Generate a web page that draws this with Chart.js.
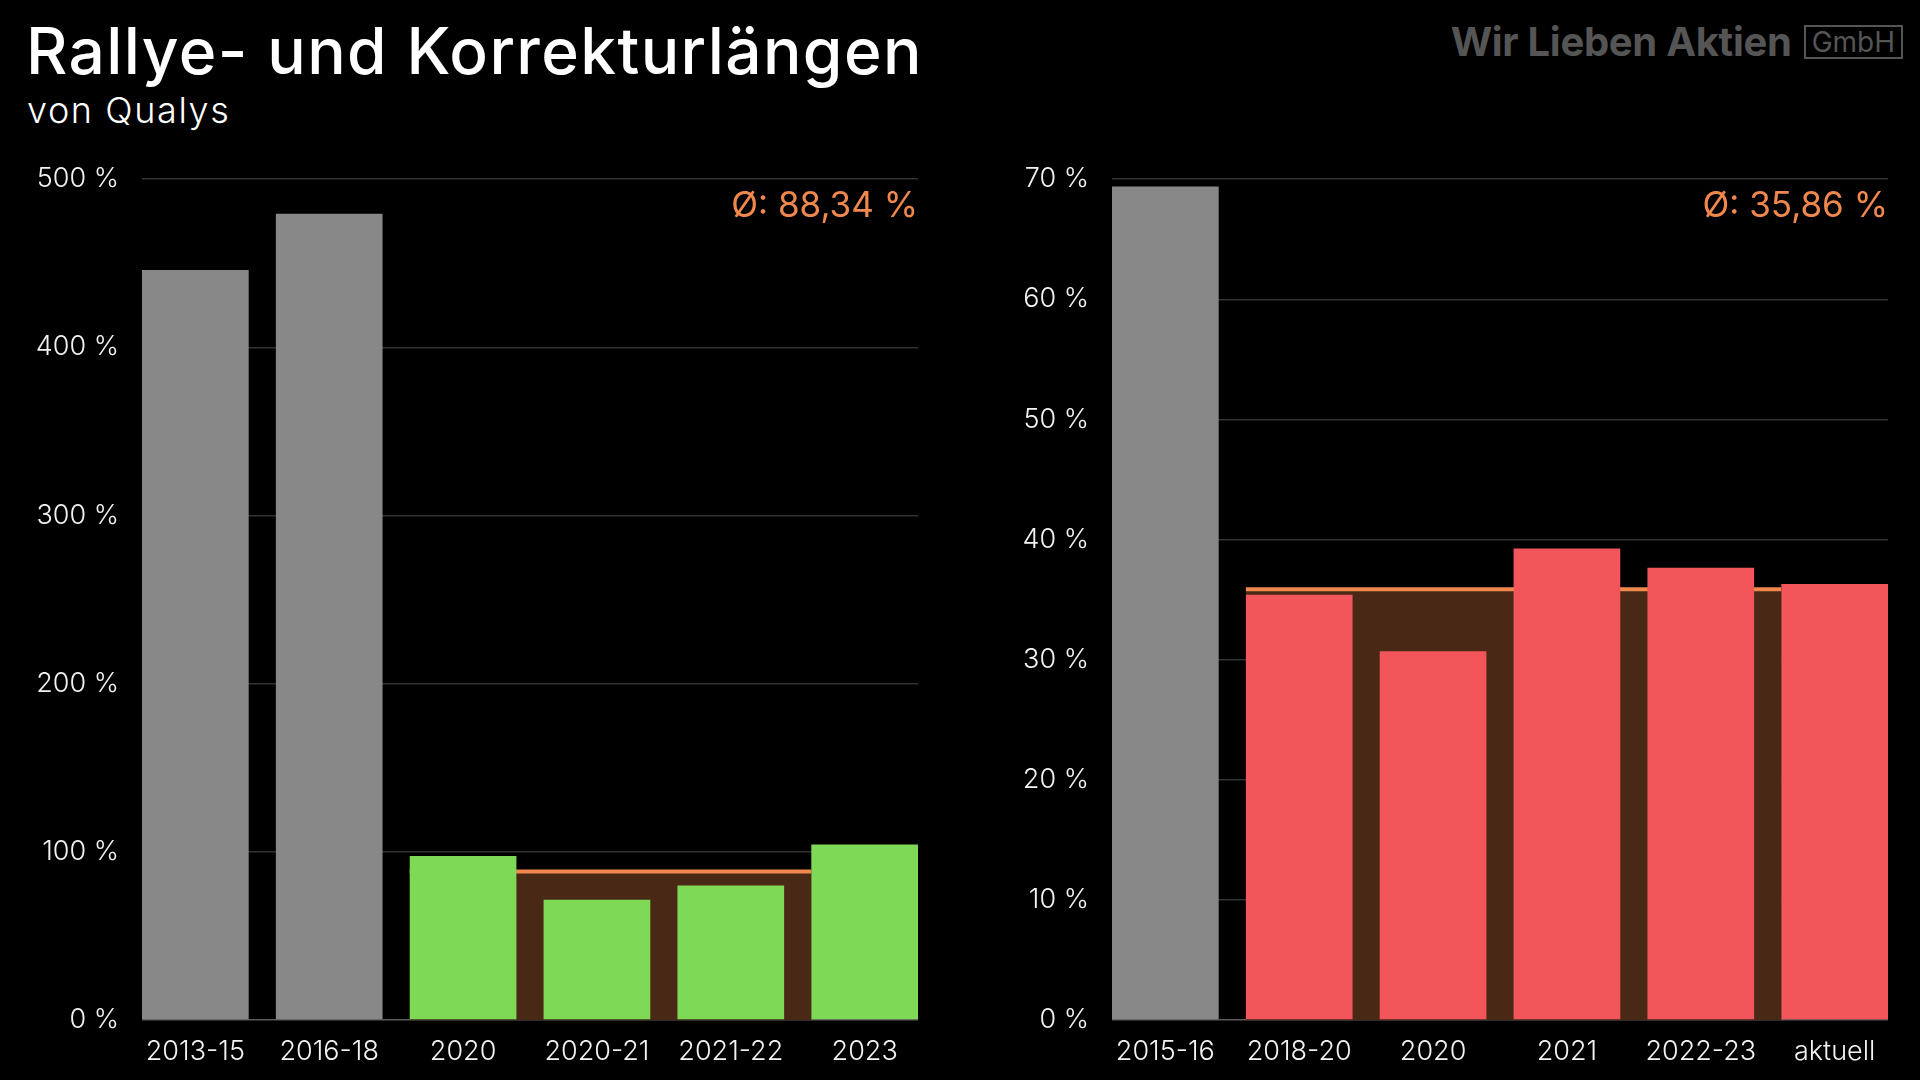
<!DOCTYPE html>
<html>
<head>
<meta charset="utf-8">
<script src="https://cdn.jsdelivr.net/npm/chart.js@4.4.0/dist/chart.umd.min.js"></script>
<style>
  html, body { margin: 0; padding: 0; background: #000; }
  body { width: 1920px; height: 1080px; position: relative; overflow: hidden; font-family: Inter, "Open Sans", sans-serif; }
  #title { position: absolute; left: 26px; top: 12px; color: #fff; font-size: 64px; font-weight: 500; letter-spacing: 1.4px; white-space: nowrap; }
  #subtitle { position: absolute; left: 27px; top: 88px; color: #fff; font-size: 36px; font-weight: 300; letter-spacing: 1.6px; white-space: nowrap; }
  #brand { position: absolute; right: 17px; top: 17px; color: #555; white-space: nowrap; display: flex; align-items: center; }
  #brand .name { font-size: 40px; font-weight: 700; letter-spacing: -0.3px; }
  #brand .box { margin-left: 12px; font-size: 28px; font-weight: 400; border: 2px solid #555; padding: 0 6px; line-height: 30px; }
  .wrap { position: absolute; top: 140px; width: 940px; height: 940px; }
  #w1 { left: 0; }
  #w2 { left: 970px; }
</style>
</head>
<body>
<div id="title">Rallye- und Korrekturlängen</div>
<div id="subtitle">von Qualys</div>
<div id="brand"><span class="name">Wir Lieben Aktien</span><span class="box">GmbH</span></div>
<div class="wrap" id="w1"><canvas id="rallye"></canvas></div>
<div class="wrap" id="w2"><canvas id="korrektur"></canvas></div>
<script>
// left chart: Rallyes
const rallyeLabels = ['2013-15', '2016-18', '2020', '2020-21', '2021-22', '2023'];
const rallyeValues = [446, 479.5, 97.5, 71.5, 80, 104.3];
const rallyeColored = [false, false, true, true, true, true];
const rallyeAvg = 88.34;
const rallyeAvgText = 'Ø: 88,34 %';
const rallyeTicks = [0, 100, 200, 300, 400, 500];

// right chart: Korrekturen
const korrLabels = ['2015-16', '2018-20', '2020', '2021', '2022-23', 'aktuell'];
const korrValues = [69.4, 35.4, 30.7, 39.25, 37.65, 36.3];
const korrColored = [false, true, true, true, true, true];
const korrAvg = 35.86;
const korrAvgText = 'Ø: 35,86 %';
const korrTicks = [0, 10, 20, 30, 40, 50, 60, 70];

const GRAY = '#888888';
const GREEN = '#7ED957';
const RED = '#F2555A';
const ORANGE = '#F0884E';
const BROWN = '#4A2816';

const barShare = 0.797;        // bar width relative to category pitch
const half = barShare / 2;

const avgLabel = {
  id: 'avgLabel',
  afterDraw(chart, args, opts) {
    const c = chart.ctx, a = chart.chartArea;
    c.save();
    c.font = '400 35px Inter, "Open Sans", sans-serif';
    c.fillStyle = ORANGE;
    c.textAlign = 'right';
    c.textBaseline = 'middle';
    c.fillText(opts.text, a.right, a.top + 27);
    c.restore();
  }
};

function makeChart(id, labels, values, colored, color, avg, avgText, ticks) {
  const first = colored.indexOf(true);
  const last = colored.lastIndexOf(true);
  return new Chart(document.getElementById(id), {
    type: 'bar',
    data: {
      datasets: [{
        type: 'bar',
        data: values.map((v, i) => ({ x: i, y: v })),
        backgroundColor: colored.map(c => c ? color : GRAY),
        categoryPercentage: barShare,
        barPercentage: 1,
        order: 1
      }, {
        type: 'line',
        data: [{ x: first - half, y: avg }, { x: last - half, y: avg }],
        borderColor: ORANGE,
        borderWidth: 4,
        backgroundColor: BROWN,
        fill: 'origin',
        pointRadius: 0,
        order: 2
      }]
    },
    options: {
      responsive: true,
      maintainAspectRatio: false,
      animation: false,
      layout: { padding: { top: 17.5, right: 22 } },
      plugins: { legend: { display: false }, tooltip: { enabled: false }, avgLabel: { text: avgText } },
      scales: {
        x: {
          type: 'linear',
          offset: false,
          min: -half,
          max: labels.length - 1 + half,
          grid: { display: false },
          border: { display: false },
          afterBuildTicks: s => { s.ticks = labels.map((l, i) => ({ value: i })); },
          afterFit: s => { s.height = 60; },
          ticks: {
            autoSkip: false,
            maxRotation: 0,
            padding: 8,
            color: '#f2f2f2',
            font: { family: 'Inter', size: 27, weight: 300 },
            callback: v => labels[v]
          }
        },
        y: {
          min: ticks[0],
          max: ticks[ticks.length - 1],
          afterBuildTicks: s => { s.ticks = ticks.map(v => ({ value: v })); },
          afterFit: s => { s.width = 142; },
          grid: {
            drawTicks: false,
            lineWidth: 1.5,
            color: c => c.tick && c.tick.value === 0 ? '#5a5a5a' : '#333333'
          },
          border: { display: false },
          ticks: {
            padding: 23,
            color: '#f2f2f2',
            font: { family: 'Inter', size: 27, weight: 300 },
            callback: v => v + ' %'
          }
        }
      }
    },
    plugins: [avgLabel]
  });
}

makeChart('rallye', rallyeLabels, rallyeValues, rallyeColored, GREEN, rallyeAvg, rallyeAvgText, rallyeTicks);
makeChart('korrektur', korrLabels, korrValues, korrColored, RED, korrAvg, korrAvgText, korrTicks);
</script>
</body>
</html>
